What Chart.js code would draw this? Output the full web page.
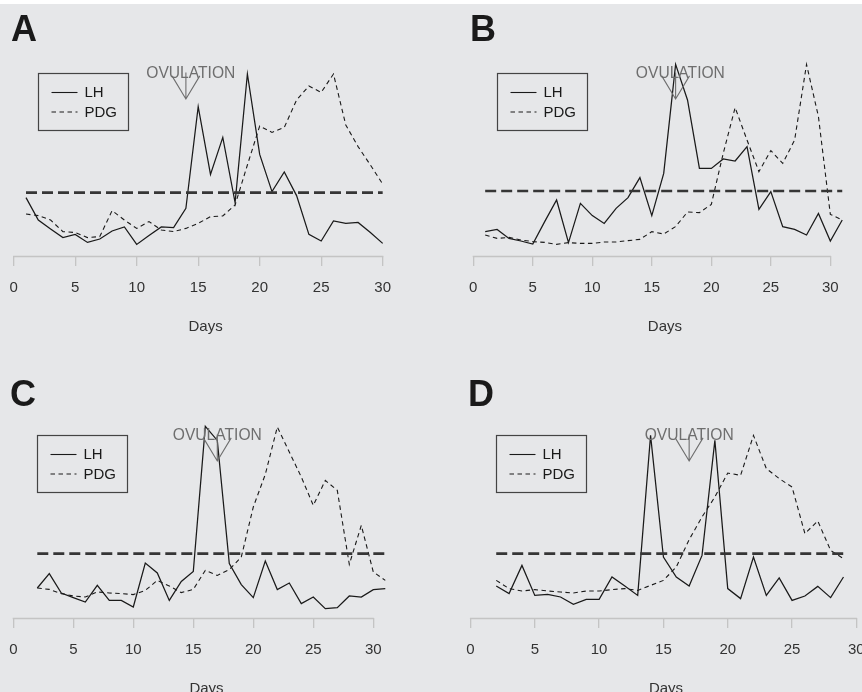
<!DOCTYPE html>
<html>
<head>
<meta charset="utf-8">
<script src="https://cdn.jsdelivr.net/npm/chart.js@4.4.1/dist/chart.umd.min.js"></script>
<style>
  html, body { margin: 0; padding: 0; }
  body { width: 862px; height: 692px; background: #e6e7e9; position: relative; overflow: hidden;
         font-family: "Liberation Sans", Arial, sans-serif; }
  .strip { position: absolute; left: 0; top: 0; width: 862px; height: 4px; background: #fff; }
  .panel { position: absolute; }
  .letter { position: absolute; font-weight: bold; font-size: 36px; line-height: 36px; color: #1a1a1a; }
</style>
</head>
<body>
<div class="strip"></div>
<canvas id="chartA" class="panel" width="431" height="346" style="left:0;top:0"></canvas>
<canvas id="chartB" class="panel" width="440" height="346" style="left:431px;top:0"></canvas>
<canvas id="chartC" class="panel" width="431" height="346" style="left:0;top:362px"></canvas>
<canvas id="chartD" class="panel" width="440" height="346" style="left:431px;top:362px"></canvas>
<div class="letter" style="left:11px;top:11px">A</div>
<div class="letter" style="left:470px;top:11px">B</div>
<div class="letter" style="left:10px;top:376px">C</div>
<div class="letter" style="left:468px;top:376px">D</div>
<script>
// relative hormone level, 0 = bottom of plot, 100 = top
const daysA = [1,2,3,4,5,6,7,8,9,10,11,12,13,14,15,16,17,18,19,20,21,22,23,24,25,26,27,28,29,30];
const lhA   = [29.2,18,13.5,9.2,10.8,6.8,8.5,12.5,14.5,5.8,10.2,14.5,14.2,23.8,74.7,40.8,59.3,26.7,91,50.8,32.2,42,30.2,10.8,7.5,17.5,16.3,16.8,11.7,6.3];
const pdgA  = [21,20.2,18,12.2,11.7,9.2,9.7,22.7,18,13.8,17.2,13,12.2,13.8,16.3,19.7,20,25.5,45.5,65,61.8,64.3,78,85,81.8,91,65.5,54.7,45.5,36];

const daysB = [1,2,3,4,5,6,7,8,9,10,11,12,13,14,15,16,17,18,19,20,21,22,23,24,25,26,27,28,29,30,31];
const lhB   = [12.2,13.3,8.8,7.5,6,17.2,28,6.7,26.3,20.2,16.3,23.8,29.2,39.2,20.2,41.3,95.8,78,43.8,43.8,48.5,47.5,54.7,23.3,32.2,14.7,13.3,10.5,21.3,7.5,18];
const pdgB  = [10.5,8.8,9.3,8,7.2,6.8,5.8,6.7,6.3,6.3,7,7,7.7,8.3,12.2,11,14.7,22,21.7,25.8,51.3,74.2,58,42.2,52.7,46.3,58,95.8,69.7,20.8,18];

const daysC = [2,3,4,5,6,7,8,9,10,11,12,13,14,15,16,17,18,19,20,21,22,23,24,25,26,27,28,29,30,31];
const lhC   = [15,22.2,12.5,10.2,8,16.3,8.8,8.8,5.5,27.5,22.5,8.8,18.3,23.3,95.8,88.8,27.2,16.7,10.2,28.5,14.2,17.5,7.2,10.5,4.7,5.2,11,10.5,14.2,14.7];
const pdgC  = [15,14.3,12.2,11,10.5,13,12.5,12.2,11.7,13.8,18.8,16,12.7,14.3,23.8,21.3,24.2,30.5,55.5,71.8,95.5,83,70.5,56.3,68.8,63.8,26.8,46.3,23,18.8];

const daysD = [2,3,4,5,6,7,8,9,10,11,12,13,14,15,16,17,18,19,20,21,22,23,24,25,26,27,28,29];
const lhD   = [16,12.2,26.3,11.3,11.8,10.5,6.8,9.3,9.3,20.5,16,11.3,91.3,30.5,20.5,16,31.3,88.8,14.7,9.7,30.5,11.3,20,8.8,11,15.8,10.2,20.5];
const pdgD  = [18.8,14.7,13.5,14.2,13.5,13,12.5,13.5,13.5,14.2,14.7,13.8,16.3,18.8,25.5,39.2,50.5,60.5,72.5,71.3,91.3,74.7,69.7,65.5,42.2,48.5,33.8,29.7];

const cutLevel = [31.7, 32.5, 32.2, 32.2];
const ovulationDay = [14, 17, 17, 17];
const ovulationLabelDay = [14.4, 17.4, 17, 17];
const dayTicks = [0, 5, 10, 15, 20, 25, 30];

const FONT = '"Liberation Sans", Arial, sans-serif';
const GRAY_AXIS = '#c4c4c4';
const INK = '#1a1a1a';

const extras = {
    id: 'extras',
    afterDraw(chart, args, o) {
        const ctx = chart.ctx;
        const x = chart.scales.x, y = chart.scales.y;
        ctx.save();

        // axis line only between first and last tick (R style)
        const ay = chart.chartArea.bottom + 0.5;
        ctx.strokeStyle = GRAY_AXIS;
        ctx.lineWidth = 1.3;
        ctx.beginPath();
        ctx.moveTo(x.getPixelForValue(dayTicks[0]) - 0.6, ay);
        ctx.lineTo(x.getPixelForValue(dayTicks[dayTicks.length - 1]) + 0.6, ay);
        ctx.stroke();

        // legend box
        const bx = Math.round(x.getPixelForValue(2)) + 0.5;
        const by = Math.round(y.getPixelForValue(91.3)) + 0.5;
        ctx.strokeStyle = '#444';
        ctx.lineWidth = 1.2;
        ctx.strokeRect(bx, by, 90, 57);
        ctx.strokeStyle = INK;
        ctx.lineWidth = 1.1;
        ctx.beginPath();
        ctx.moveTo(bx + 13, by + 19); ctx.lineTo(bx + 39, by + 19);
        ctx.stroke();
        ctx.setLineDash([4.5, 3.5]);
        ctx.beginPath();
        ctx.moveTo(bx + 13, by + 38.5); ctx.lineTo(bx + 39, by + 38.5);
        ctx.stroke();
        ctx.setLineDash([]);
        ctx.fillStyle = INK;
        ctx.font = '15px ' + FONT;
        ctx.textBaseline = 'middle';
        ctx.textAlign = 'left';
        ctx.fillText('LH', bx + 46, by + 19.5);
        ctx.fillText('PDG', bx + 46, by + 39);

        // ovulation arrow + label
        const grey = '#6e6e6e';
        const ox = x.getPixelForValue(o.ovu);
        const top = y.getPixelForValue(91.8);
        const tip = y.getPixelForValue(78.5);
        ctx.strokeStyle = grey;
        ctx.lineWidth = 1.1;
        ctx.beginPath();
        ctx.moveTo(ox, top); ctx.lineTo(ox, tip);
        const a = 31 * Math.PI / 180, hl = 27;
        ctx.moveTo(ox - hl * Math.sin(a), tip - hl * Math.cos(a));
        ctx.lineTo(ox, tip);
        ctx.lineTo(ox + hl * Math.sin(a), tip - hl * Math.cos(a));
        ctx.stroke();

        ctx.fillStyle = grey;
        ctx.font = '17px ' + FONT;
        ctx.textAlign = 'center';
        const w = ctx.measureText('OVULATION').width;
        ctx.translate(x.getPixelForValue(o.label), y.getPixelForValue(91.3));
        ctx.scale(89 / w, 1);
        ctx.fillText('OVULATION', 0, 0);
        ctx.restore();
    }
};

function makeChart(id, p) {
    const pts = vals => p.days.map((d, i) => ({x: d, y: vals[i]}));
    return new Chart(document.getElementById(id), {
        type: 'line',
        data: {
            datasets: [
                {
                    label: 'cut-off',
                    data: [{x: p.days[0], y: p.cut}, {x: p.days[p.days.length - 1], y: p.cut}],
                    borderColor: '#363636', borderWidth: 2.6, borderDash: [11, 5],
                    pointRadius: 0
                },
                {
                    label: 'LH', data: pts(p.lh),
                    borderColor: INK, borderWidth: 1.25, pointRadius: 0, tension: 0
                },
                {
                    label: 'PDG', data: pts(p.pdg),
                    borderColor: INK, borderWidth: 1.1, borderDash: [4.5, 3.5], pointRadius: 0, tension: 0
                }
            ]
        },
        options: {
            responsive: false,
            animation: false,
            layout: {
                autoPadding: false,
                padding: {left: p.padL, right: p.padR, top: 56, bottom: 13}
            },
            scales: {
                x: {
                    type: 'linear',
                    min: p.xMin, max: p.xMax,
                    afterBuildTicks: s => { s.ticks = dayTicks.map(v => ({value: v})); },
                    afterFit: s => { s.height = 77; },
                    border: {display: false},
                    grid: {drawOnChartArea: false, drawTicks: true, tickLength: 10, color: GRAY_AXIS, lineWidth: 1.3},
                    // padding 0 (it would widen the chart area); the tall line height pushes labels down instead
                    ticks: {padding: 0, color: '#333', font: {family: FONT, size: 15, lineHeight: 2.95}, maxRotation: 0, autoSkip: false},
                    title: {display: true, text: 'Days', color: '#333', font: {family: FONT, size: 15, lineHeight: 0.8}, padding: 0}
                },
                y: {display: false, min: 0, max: 100}
            },
            plugins: {
                legend: {display: false},
                tooltip: {enabled: false},
                extras: {ovu: p.ovu, label: p.label}
            }
        },
        plugins: [extras]
    });
}

makeChart('chartA', {days: daysA, lh: lhA, pdg: pdgA, cut: cutLevel[0], ovu: ovulationDay[0], label: ovulationLabelDay[0],
    xMin: -0.2, xMax: 31.4, padL: 11.24, padR: 31.1});
makeChart('chartB', {days: daysB, lh: lhB, pdg: pdgB, cut: cutLevel[1], ovu: ovulationDay[1], label: ovulationLabelDay[1],
    xMin: -0.2, xMax: 32.4, padL: 39.9, padR: 12.1});
makeChart('chartC', {days: daysC, lh: lhC, pdg: pdgC, cut: cutLevel[2], ovu: ovulationDay[2], label: ovulationLabelDay[2],
    xMin: 0, xMax: 32.2, padL: 13.3, padR: 31.3});
makeChart('chartD', {days: daysD, lh: lhD, pdg: pdgD, cut: cutLevel[3], ovu: ovulationDay[3], label: ovulationLabelDay[3],
    xMin: 0, xMax: 30.4, padL: 39.5, padR: 9.5});
</script>
</body>
</html>
